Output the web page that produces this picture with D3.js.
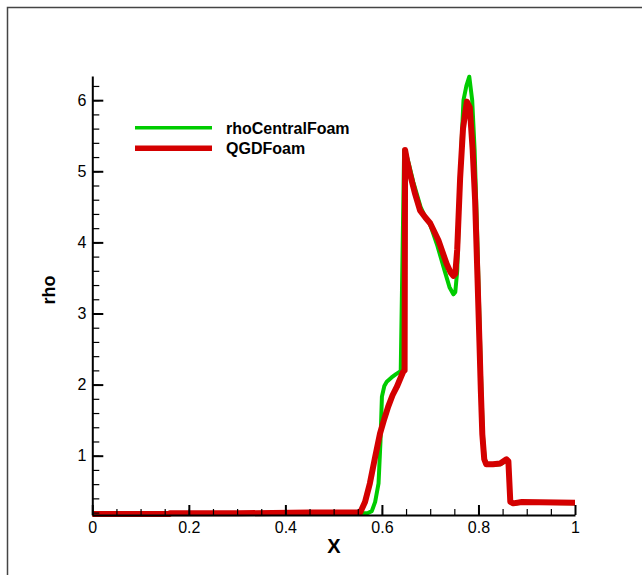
<!DOCTYPE html>
<html lang="en">
<head>
    <meta charset="utf-8">
    <style type="text/css">
        body { margin: 0; background: #fff; }
        text { font-family: "Liberation Sans", Arial, sans-serif; }
        .line { fill: none; stroke-linejoin: round; stroke-linecap: butt; }
    </style>
</head>
<body>
<svg width="642" height="575"></svg>

<script src="https://d3js.org/d3.v7.min.js"></script>

<script type="text/javascript">
    // rhoCentralFoam
    var greenX = [0, 0.16, 0.3, 0.45, 0.57, 0.579, 0.586, 0.593, 0.597, 0.6, 0.605, 0.61, 0.62, 0.63, 0.637, 0.639,
        0.646, 0.65, 0.656, 0.665, 0.68, 0.69, 0.7, 0.715, 0.73, 0.74, 0.748, 0.752, 0.756, 0.76, 0.765, 0.769,
        0.775, 0.781, 0.787, 0.792, 0.797, 0.801, 0.805, 0.809, 0.813, 0.817, 0.83, 0.845, 0.858, 0.862, 0.866,
        0.872, 0.89, 1.0];
    var greenRho = [0.18, 0.185, 0.19, 0.195, 0.19, 0.22, 0.35, 0.61, 1.2, 1.83, 1.98, 2.04, 2.1, 2.15, 2.18, 2.2,
        5.3, 5.25, 5.1, 4.85, 4.5, 4.35, 4.25, 3.95, 3.6, 3.37, 3.27, 3.3, 3.6, 4.5, 5.4, 6.0,
        6.2, 6.33, 6.0, 5.3, 4.2, 3.2, 2.2, 1.3, 0.95, 0.87, 0.87, 0.88, 0.93, 0.9, 0.35,
        0.32, 0.34, 0.33];

    // QGDFoam
    var redX = [0, 0.16, 0.161, 0.3, 0.45, 0.555, 0.565, 0.575, 0.585, 0.596, 0.605, 0.613, 0.622, 0.631, 0.639,
        0.644, 0.647, 0.648, 0.652, 0.658, 0.668, 0.679, 0.69, 0.7, 0.717, 0.734, 0.742, 0.748, 0.752, 0.756,
        0.762, 0.768, 0.776, 0.782, 0.788, 0.793, 0.798, 0.802, 0.805, 0.808, 0.812, 0.816, 0.83, 0.845, 0.858,
        0.862, 0.866, 0.872, 0.89, 1.0];
    var redRho = [0.18, 0.18, 0.19, 0.19, 0.2, 0.2, 0.35, 0.61, 0.95, 1.31, 1.52, 1.69, 1.85, 1.97, 2.1,
        2.18, 2.2, 5.3, 5.15, 4.97, 4.7, 4.45, 4.35, 4.27, 4.03, 3.7, 3.58, 3.53, 3.56, 3.9,
        4.9, 5.6, 5.98, 5.9, 5.3, 4.6, 3.5, 2.6, 1.9, 1.3, 0.95, 0.88, 0.88, 0.89, 0.95,
        0.92, 0.35, 0.33, 0.35, 0.34];

    var xMajor = [0, 0.2, 0.4, 0.6, 0.8, 1];
    var xMinor = d3.range(0.05, 1, 0.05);
    var yMajor = [1, 2, 3, 4, 5, 6];
    var yMinor = d3.range(0.2, 6.3, 0.2);

    var series = [
        {name: "rhoCentralFoam", color: "#00cc00", width: 4, xs: greenX, ys: greenRho},
        {name: "QGDFoam", color: "#d40000", width: 6, xs: redX, ys: redRho}
    ];

    var svg = d3.select("svg");

    // frame
    svg.append("path")
        .attr("d", "M7.5,575V7.5H642")
        .attr("fill", "none")
        .attr("stroke", "#444")
        .attr("stroke-width", 1.5);

    var x = d3.scaleLinear().domain([0, 1]).range([92.3, 575]);
    var y = d3.scaleLinear().domain([0.166, 6.34]).range([515, 76]);

    var line = d3.line()
        .x(function (d) { return x(d[0]); })
        .y(function (d) { return y(d[1]); });

    series.forEach(function (s) {
        svg.append("path")
            .attr("class", "line")
            .attr("stroke", s.color)
            .attr("stroke-width", s.width)
            .attr("d", line(d3.zip(s.xs, s.ys)));
    });

    // minor ticks
    var xMin = svg.append("g")
        .attr("transform", "translate(0,515)")
        .call(d3.axisBottom(x).tickValues(xMinor).tickSizeInner(-6).tickSizeOuter(0).tickFormat(""));
    xMin.select(".domain").remove();
    xMin.selectAll("line").attr("stroke-width", 1.2);

    var yMin = svg.append("g")
        .attr("transform", "translate(92.3,0)")
        .call(d3.axisLeft(y).tickValues(yMinor).tickSizeInner(-7).tickSizeOuter(0).tickFormat(""));
    yMin.select(".domain").remove();
    yMin.selectAll("line").attr("stroke-width", 1.2);

    // major axes
    var fmt = d3.format("");
    var xAx = svg.append("g")
        .attr("transform", "translate(0,515)")
        .call(d3.axisBottom(x).tickValues(xMajor).tickSizeInner(-10).tickSizeOuter(0).tickPadding(7)
            .tickFormat(fmt));
    var yAx = svg.append("g")
        .attr("transform", "translate(92.3,0)")
        .call(d3.axisLeft(y).tickValues(yMajor).tickSizeInner(-11).tickSizeOuter(0).tickPadding(6)
            .tickFormat(fmt));

    [xAx, yAx].forEach(function (g) {
        g.select(".domain").attr("stroke-width", 2);
        g.selectAll("line").attr("stroke-width", 2);
        g.selectAll("text")
            .attr("font-family", "'Liberation Sans', Arial, sans-serif")
            .attr("font-size", 16)
            .attr("fill", "#000");
    });

    // axis titles
    svg.append("text")
        .attr("x", 334).attr("y", 553)
        .attr("text-anchor", "middle")
        .attr("font-size", 20).attr("font-weight", "bold")
        .text("X");

    svg.append("text")
        .attr("transform", "translate(55,290) rotate(-90)")
        .attr("text-anchor", "middle")
        .attr("font-size", 18).attr("font-weight", "bold")
        .text("rho");

    // legend
    var leg = svg.selectAll(".leg")
        .data(series)
        .enter().append("g")
        .attr("class", "leg")
        .attr("transform", function (d, i) { return "translate(0," + (127.7 + i * 20.5) + ")"; });
    leg.append("line")
        .attr("x1", 135).attr("x2", 212)
        .attr("stroke", function (d) { return d.color; })
        .attr("stroke-width", function (d) { return d.width - 0.5; });
    leg.append("text")
        .attr("x", 226).attr("y", 5.8)
        .attr("font-size", 16).attr("font-weight", "bold")
        .text(function (d) { return d.name; });
</script>

</body>
</html>
